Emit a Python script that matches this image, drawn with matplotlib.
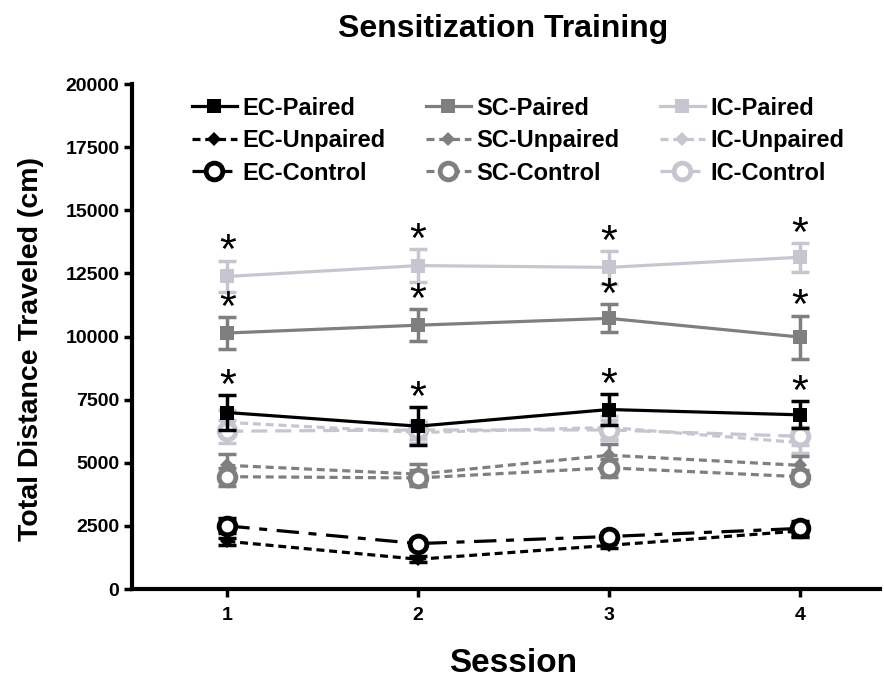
import numpy as np
import matplotlib.pyplot as plt

plt.rcParams['font.family'] = ['Liberation Sans', 'DejaVu Sans']
plt.rcParams['font.weight'] = 'bold'

sessions = [1, 2, 3, 4]

# means and SEM
ec_paired = [6990, 6450, 7110, 6900]
ec_paired_err = [690, 750, 620, 530]
ec_unpaired = [1890, 1180, 1730, 2300]
ec_unpaired_err = [150, 120, 120, 250]
ec_control = [2500, 1800, 2080, 2400]
ec_control_err = [300, 150, 150, 300]

sc_paired = [10140, 10450, 10720, 9980]
sc_paired_err = [620, 630, 550, 850]
sc_unpaired = [4900, 4550, 5300, 4900]
sc_unpaired_err = [450, 400, 450, 350]
sc_control = [4450, 4400, 4800, 4450]
sc_control_err = [350, 300, 350, 250]

ic_paired = [12380, 12810, 12740, 13140]
ic_paired_err = [630, 650, 650, 570]
ic_unpaired = [6600, 6200, 6400, 5800]
ic_unpaired_err = [500, 400, 450, 400]
ic_control = [6250, 6300, 6300, 6050]
ic_control_err = [450, 350, 400, 350]

black = '#000000'
gray = '#7f7f7f'
light = '#c6c6d0'

fig = plt.figure(figsize=(8.84, 6.79), dpi=100)
ax = fig.add_axes([0.1493, 0.1325, 0.846, 0.7437])

series = [
    ('EC-Paired', ec_paired, ec_paired_err, black, 's', '-'),
    ('EC-Unpaired', ec_unpaired, ec_unpaired_err, black, 'D', (0, (2.5, 1.5))),
    ('EC-Control', ec_control, ec_control_err, black, 'o', (0, (7, 3, 2.5, 3))),
    ('SC-Paired', sc_paired, sc_paired_err, gray, 's', '-'),
    ('SC-Unpaired', sc_unpaired, sc_unpaired_err, gray, 'D', (0, (2.5, 1.5))),
    ('SC-Control', sc_control, sc_control_err, gray, 'o', (0, (2.5, 1.5))),
    ('IC-Paired', ic_paired, ic_paired_err, light, 's', '-'),
    ('IC-Unpaired', ic_unpaired, ic_unpaired_err, light, 'D', (0, (2.5, 1.5))),
    ('IC-Control', ic_control, ic_control_err, light, 'o', (0, (5, 2.5))),
]

# lighter groups first so the dark ones sit on top
order = [6, 7, 8, 3, 4, 5, 0, 1, 2]
handles = {}
for i in order:
    name, y, err, col, mk, ls = series[i]
    ax.errorbar(sessions, y, yerr=err, fmt='none', ecolor=col, elinewidth=2.5,
                capsize=6.5, capthick=2.5)
    if mk == 'o':
        mkw = dict(markersize=12, markerfacecolor='white', markeredgewidth=3.5)
    elif mk == 'D':
        mkw = dict(markersize=7, markerfacecolor=col, markeredgewidth=0)
    else:
        mkw = dict(markersize=10, markerfacecolor=col, markeredgewidth=0)
    line, = ax.plot(sessions, y, color=col, linestyle=ls, linewidth=2.3,
                    marker=mk, markeredgecolor=col, **mkw)
    handles[i] = line

# significance asterisks above the paired groups
for y, err in [(ec_paired, ec_paired_err), (sc_paired, sc_paired_err), (ic_paired, ic_paired_err)]:
    for xs, v, e in zip(sessions, y, err):
        ax.annotate('*', (xs, v + e), xytext=(0, -2), textcoords='offset points',
                    ha='center', va='baseline', fontsize=31, fontweight='normal',
                    color='black')

ax.set_xlim(0.5, 4.42)
ax.set_ylim(0, 20000)
ax.set_xticks(sessions)
ax.set_yticks(np.arange(0, 20001, 2500))
ax.tick_params(axis='both', width=2.5, length=6, labelsize=14)
ax.tick_params(axis='x', pad=7)
ax.tick_params(axis='y', pad=3)
ax.spines['top'].set_visible(False)
ax.spines['right'].set_visible(False)
ax.spines['left'].set_linewidth(3)
ax.spines['bottom'].set_linewidth(3)

ax.set_xlabel('Session', fontsize=24, fontweight='bold')
ax.xaxis.label.set_va('baseline')
ax.xaxis.set_label_coords(0.51, -0.165)
ax.set_ylabel('Total Distance Traveled (cm)', fontsize=20.5, fontweight='bold')
ax.yaxis.set_label_coords(-0.117, 0.475)
fig.text(0.569, 0.9455, 'Sensitization Training', ha='center', va='baseline',
         fontsize=23, fontweight='bold')

ax.legend([handles[i] for i in range(9)], [s[0] for s in series], ncol=3,
          loc='upper left', bbox_to_anchor=(0.08, 0.975), frameon=False,
          borderpad=0, borderaxespad=0, numpoints=1,
          fontsize=17, handlelength=1.9, handletextpad=0.25, columnspacing=1.7,
          labelspacing=0.4)

fig.savefig('out.png', dpi=100)
